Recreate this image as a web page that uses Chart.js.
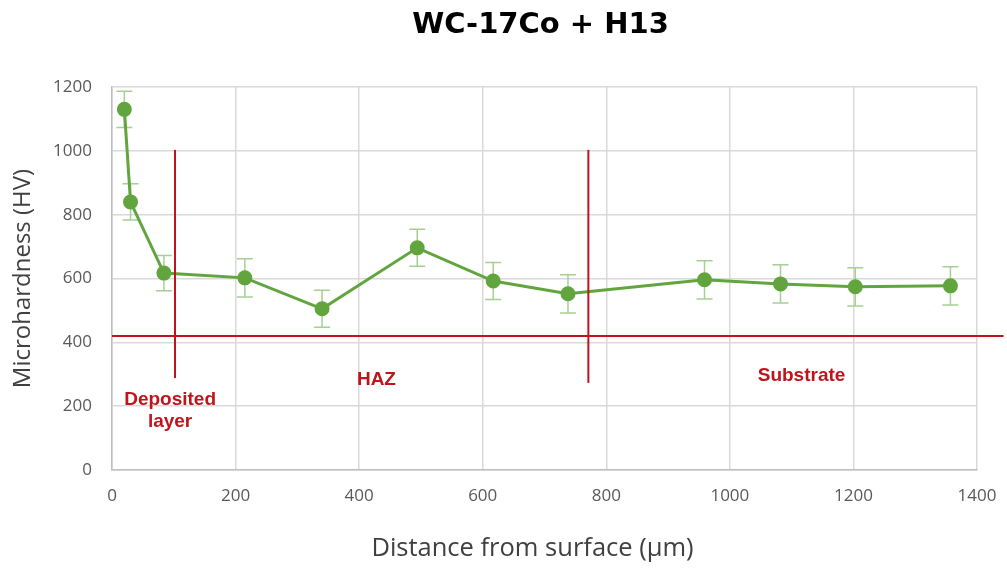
<!DOCTYPE html>
<html>
<head>
<meta charset="utf-8">
<script src="https://cdn.jsdelivr.net/npm/chart.js@4.4.1/dist/chart.umd.min.js"></script>
<style>
    html, body { margin: 0; padding: 0; background: #ffffff; }
    #wrap { width: 1007px; height: 568px; }
</style>
</head>
<body>
<div id="wrap"><canvas id="chart"></canvas></div>
<script>
// ==========================================
// Microhardness profile - WC-17Co + H13
// ==========================================

const distance = [20, 30, 84, 215, 340, 494, 617, 738, 959, 1082, 1203, 1357];
const hardness = [1130, 840, 617, 602, 505, 696, 592, 552, 596, 583, 574, 577];
const hardnessErr = [57, 57, 55, 60, 58, 58, 58, 60, 60, 60, 60, 60];

// zone boundaries (red lines)
const baselineX = [0, 1443];
const baselineY = [420, 420];
const boundary1X = [102, 102];
const boundary1Y = [288, 1003];
const boundary2X = [771, 771];
const boundary2Y = [273, 1003];

// zone labels
const zoneText = [['Deposited', 'layer'], ['HAZ'], ['Substrate']];
const zoneX = [94, 428, 1116];
const zoneY = [219, 282, 294];

const xTicks = [0, 200, 400, 600, 800, 1000, 1200, 1400];
const yTicks = [0, 200, 400, 600, 800, 1000, 1200];

const chartTitle = 'WC-17Co + H13';
const xTitle = 'Distance from surface (µm)';

const toPoints = (xs, ys) => xs.map((x, i) => ({ x: x, y: ys[i] }));

const green = '#62a53e';
const errGreen = '#a6cf94';
const red = '#c0141c';

const errorBarsPlugin = {
    id: 'errorBars',
    beforeDatasetsDraw(chart) {
        const ctx = chart.ctx;
        const xs = chart.scales.x;
        const ys = chart.scales.y;
        ctx.save();
        ctx.strokeStyle = errGreen;
        ctx.lineWidth = 1.5;
        distance.forEach((d, i) => {
            const px = xs.getPixelForValue(d);
            const top = ys.getPixelForValue(hardness[i] + hardnessErr[i]);
            const bot = ys.getPixelForValue(hardness[i] - hardnessErr[i]);
            ctx.beginPath();
            ctx.moveTo(px, top);
            ctx.lineTo(px, bot);
            ctx.moveTo(px - 8, top);
            ctx.lineTo(px + 8, top);
            ctx.moveTo(px - 8, bot);
            ctx.lineTo(px + 8, bot);
            ctx.stroke();
        });
        ctx.restore();
    }
};

const zoneLabelsPlugin = {
    id: 'zoneLabels',
    afterDatasetsDraw(chart) {
        const ctx = chart.ctx;
        const xs = chart.scales.x;
        const ys = chart.scales.y;
        ctx.save();
        ctx.fillStyle = red;
        ctx.font = 'bold 19px "Liberation Sans", Arial, sans-serif';
        ctx.textAlign = 'center';
        ctx.textBaseline = 'middle';
        zoneText.forEach((lines, i) => {
            const px = xs.getPixelForValue(zoneX[i]);
            const py = ys.getPixelForValue(zoneY[i]);
            lines.forEach((line, j) => {
                ctx.fillText(line, px, py + j * 22);
            });
        });
        ctx.restore();
    }
};

// chart title and x axis title, placed relative to the plot area
const titlesPlugin = {
    id: 'titles',
    afterDraw(chart) {
        const ctx = chart.ctx;
        const area = chart.chartArea;
        const mid = (area.left + area.right) / 2;
        ctx.save();
        ctx.textAlign = 'center';
        ctx.textBaseline = 'middle';
        ctx.fillStyle = '#000000';
        ctx.font = 'bold 29px "DejaVu Sans", sans-serif';
        ctx.fillText(chartTitle, mid - 4, area.top - 62);
        ctx.fillStyle = '#404040';
        ctx.font = '25.5px "Open Sans", sans-serif';
        ctx.fillText(xTitle, mid - 12, area.bottom + 79);
        ctx.restore();
    }
};

const redLine = (xs, ys, order) => ({
    data: toPoints(xs, ys),
    showLine: true,
    borderColor: red,
    borderWidth: 2,
    pointRadius: 0,
    fill: false,
    tension: 0,
    clip: false,
    order: order
});

new Chart(document.getElementById('chart'), {
    type: 'scatter',
    data: {
        datasets: [
            {
                label: 'Microhardness',
                data: toPoints(distance, hardness),
                showLine: true,
                borderColor: green,
                backgroundColor: green,
                borderWidth: 3,
                pointRadius: 6,
                pointBackgroundColor: green,
                pointBorderColor: green,
                tension: 0,
                order: 1
            },
            redLine(baselineX, baselineY, 2),
            redLine(boundary1X, boundary1Y, 0),
            redLine(boundary2X, boundary2Y, 0)
        ]
    },
    options: {
        responsive: true,
        maintainAspectRatio: false,
        animation: false,
        layout: {
            padding: { left: 0, right: 30, top: 87, bottom: 0 }
        },
        plugins: {
            legend: { display: false },
            tooltip: { enabled: false },
            title: { display: false }
        },
        scales: {
            x: {
                type: 'linear',
                min: 0,
                max: 1400,
                afterBuildTicks: (axis) => { axis.ticks = xTicks.map(v => ({ value: v })); },
                afterFit: (axis) => {
                    axis.height = 98;
                    axis.paddingLeft = 0;
                    axis.paddingRight = 0;
                },
                grid: { color: '#d9d9d9', lineWidth: 1.5, drawTicks: false },
                border: { color: '#bfbfbf', width: 1.5 },
                ticks: {
                    color: '#595959',
                    padding: 16,
                    maxRotation: 0,
                    callback: (v) => String(v),
                    font: { family: '"Open Sans", sans-serif', size: 17 }
                },
                title: { display: false }
            },
            y: {
                type: 'linear',
                min: 0,
                max: 1200,
                afterBuildTicks: (axis) => { axis.ticks = yTicks.map(v => ({ value: v })); },
                afterFit: (axis) => { axis.width = 112; },
                grid: { color: '#d9d9d9', lineWidth: 1.5, drawTicks: false },
                border: { color: '#bfbfbf', width: 1.5 },
                ticks: {
                    color: '#595959',
                    padding: 20,
                    callback: (v) => String(v),
                    font: { family: '"Open Sans", sans-serif', size: 17 }
                },
                title: {
                    display: true,
                    text: 'Microhardness (HV)',
                    color: '#404040',
                    font: { family: '"Open Sans", sans-serif', size: 24 },
                    padding: { top: 9, bottom: 0 }
                }
            }
        }
    },
    plugins: [errorBarsPlugin, zoneLabelsPlugin, titlesPlugin]
});
</script>
</body>
</html>
